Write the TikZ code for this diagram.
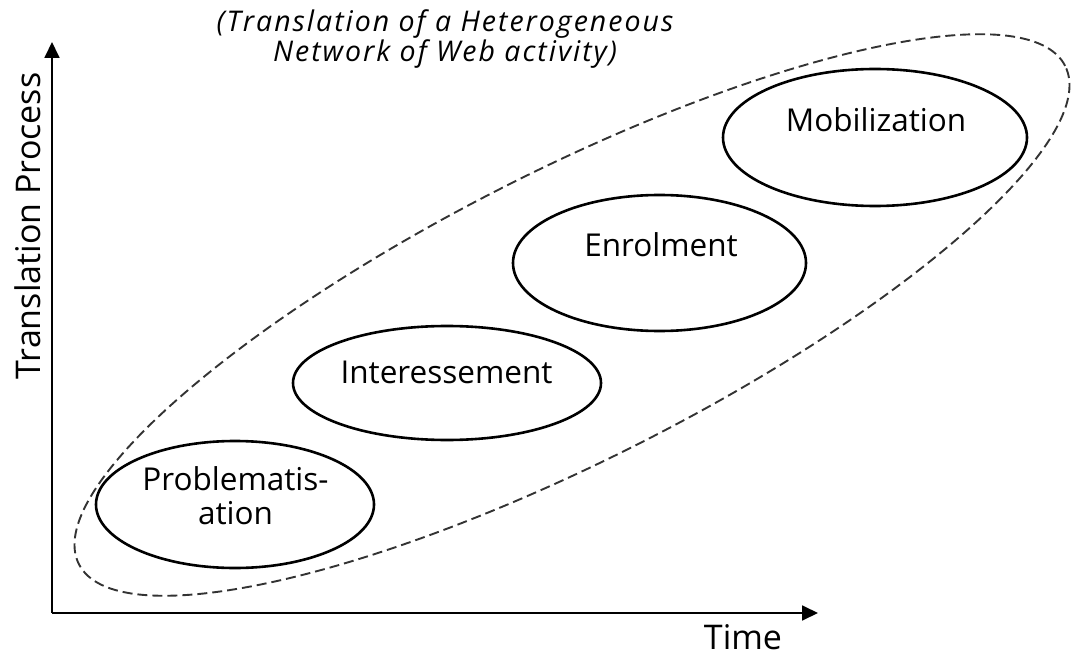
\documentclass[tikz,border=0pt]{standalone}
\usepackage{fontspec}
\setmainfont{Open Sans}
\usetikzlibrary{arrows.meta,shapes.geometric}
\begin{document}
\begin{tikzpicture}[x=1pt,y=1pt,
  stage/.style={ellipse, draw, line width=2.6pt, inner sep=0pt},
  stagetext/.style={font=\fontsize{31.5}{34}\selectfont, align=center, inner sep=0pt},
  axislabel/.style={font=\fontsize{34}{38}\selectfont, inner sep=0pt},
  axis/.style={line width=1.8pt, -{Triangle[length=16pt,width=15pt]}},
  hull/.style={ellipse, draw=black!80, line width=1.9pt, dash pattern=on 10pt off 5pt, inner sep=0pt}]
\useasboundingbox (0,0) rectangle (1073,657);
% title
\node[font=\itshape\fontsize{28.5}{30}\selectfont\addfontfeature{LetterSpace=7}, align=center, inner sep=0pt] (title) at (445,618)
  {(Translation of a Heterogeneous\\Network of Web activity)};
% axes
\coordinate (origin) at (52,44);
\coordinate (ytip) at (52,615);
\coordinate (xtip) at (818,44);
\draw[axis] (origin) -- (ytip);
\draw[axis] (origin) -- (xtip);
\node[axislabel] (time) at (743,20) {Time};
\node[axislabel, rotate=90] (proc) at (28,431) {Translation Process};
% dashed hull
\node[hull, rotate=26.8, minimum width=1105pt, minimum height=290pt] (net) at (572,342) {};
% stages
\node[stage, minimum width=304pt, minimum height=137pt] (mob) at (875,519.5) {};
\node[stage, minimum width=293pt, minimum height=136pt] (enr) at (659.5,394) {};
\node[stage, minimum width=308pt, minimum height=114pt] (int) at (447,274) {};
\node[stage, minimum width=278pt, minimum height=127pt] (prob) at (235,152.5) {};
\node[stagetext] (mobt) at (876,537) {Mobilization};
\node[stagetext] (enrt) at (661,412) {Enrolment};
\node[stagetext] (intt) at (446.5,285) {Interessement};
\node[stagetext] (probt) at (235.5,161) {Problematis-\\ation};
\end{tikzpicture}
\end{document}
